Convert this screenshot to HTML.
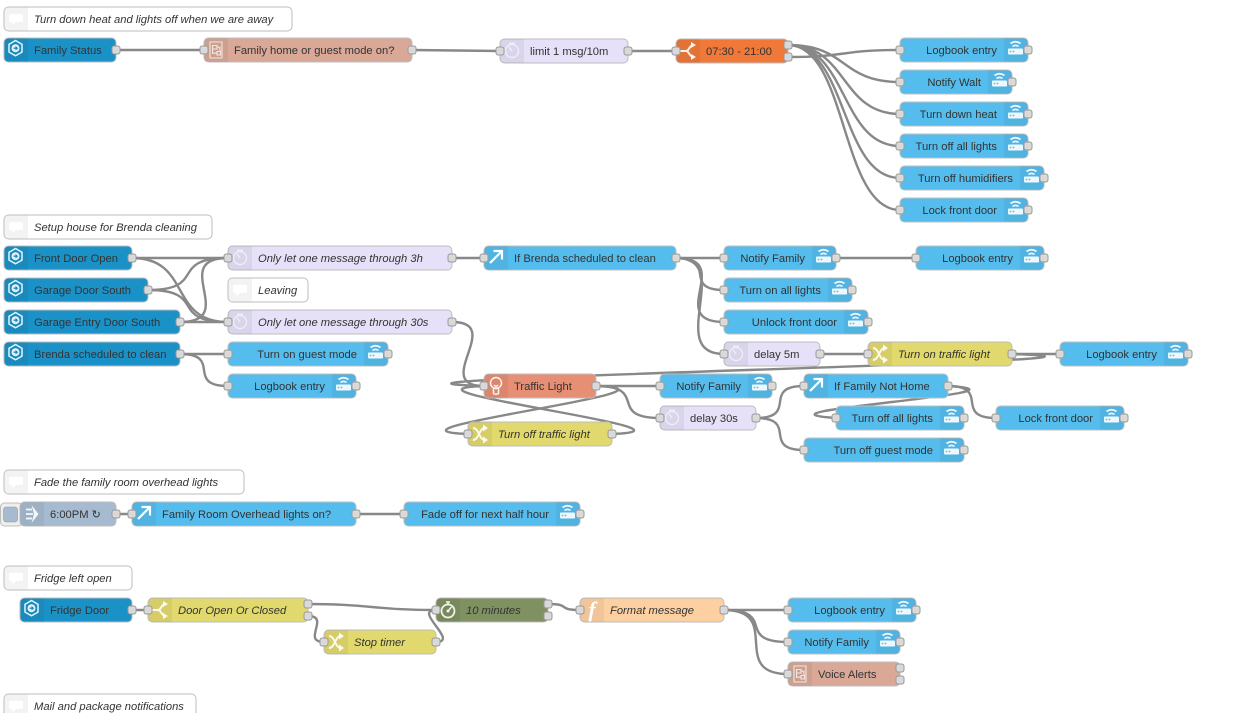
<!DOCTYPE html>
<html><head><meta charset="utf-8"><style>
html,body{margin:0;padding:0;background:#fff;overflow:hidden}
svg{display:block}
text{font-family:"Liberation Sans",Arial,sans-serif;font-size:11.2px;fill:#333}
.i{font-style:italic}
.e{text-anchor:end}
.n{stroke:#bdbdbd;stroke-width:1;rx:4.5px}
.w{fill:none;stroke:#888;stroke-width:2.4}
.ic{fill:none;stroke:#fff;stroke-width:1.5;stroke-opacity:.9}
.if{fill:#fff;fill-opacity:.9}
</style></head><body>
<svg width="1236" height="713" viewBox="0 0 1236 713" xmlns="http://www.w3.org/2000/svg">
<defs>
<rect id="po" x="-4" y="-4" width="8" height="8" rx="2.2" fill="#d9d9d9" stroke="#999" stroke-width="1"/>
<path id="L" d="M5-12H24V12H5A5 5 0 0 1 0 7V-7A5 5 0 0 1 5-12Z" fill="#000" fill-opacity=".05"/>
<path id="R" d="M0-12H19A5 5 0 0 1 24-7V7A5 5 0 0 1 19 12H0Z" fill="#000" fill-opacity=".05"/>
<g id="cm"><path d="M5-11.5H24V11.5H5A4.500 4.500 0 0 1 .5 7V-7A4.500 4.500 0 0 1 5-11.500Z" fill="#f3f3f3"/><path d="M7-5H17Q19-5 19-3V1Q19 3 17 3H12L8 6V3H7Q5 3 5 1V-3Q5-5 7-5Z" fill="#fff"/></g>
<g id="hex"><path class="ic" d="M11.500-9.500L18-5.700V2.100L11.500 5.800L5 2.100V-5.700Z"/><circle class="if" cx="11.500" cy="-1.800" r="4"/><path d="M9.500-2.500H11.500V-4.200L14.300-1.800L11.500.6V-1.100H9.500Z" fill="#1a92c8"/></g>
<g id="wifi"><rect class="if" x="4" y="-1.500" width="15" height="6" rx="1"/><circle cx="6.500" cy="1.500" r=".9" fill="#55bdee"/><circle cx="9.500" cy="1.500" r=".9" fill="#55bdee"/><path class="ic" style="stroke-width:1.700" d="M6.500-6.500Q11.500-10 16.500-6.500M8.500-3.500Q11.500-5.800 14.500-3.500"/></g>
<g id="fl"><path class="ic" style="stroke-width:1.100;stroke-opacity:.75" d="M6-8H18V8H6ZM8.500-4.500H13V-1H8.500ZM13 1.500H16.500V5H13ZM13-2.800H16V1.500M8.500-1V3.200H13"/></g>
<g id="tm"><circle class="ic" cx="12" cy="0" r="6.500" style="stroke-opacity:.55"/><path class="ic" style="stroke-opacity:.55" d="M12 0L9-4M9-7.800H15"/></g>
<g id="sw"><path class="ic" style="stroke-width:2" d="M4 0H10C13 0 13-5 17-6M10 0C13 0 13 5 17 6"/><path class="if" d="M15-9L20-6L15-3ZM15 3L20 6L15 9Z"/></g>
<g id="ar"><path class="ic" style="stroke-width:2.200;stroke-opacity:1" d="M6 5L17-6M9.500-7H18V1.500"/></g>
<g id="sh"><path class="ic" style="stroke-width:1.900" d="M5-6C11-6 11 6 17 6M5 6C11 6 11-6 17-6"/><path class="if" d="M15-9.500L20-6L15-2.500ZM15 2.500L20 6L15 9.500Z"/></g>
<g id="bu"><circle class="ic" cx="12" cy="-3" r="5.500"/><path class="ic" d="M9.500 2.500V7.500Q12 9 14.500 7.500V2.500M10-1L12 1L14-1"/></g>
<g id="st"><circle class="ic" cx="12" cy="1" r="6.500" style="stroke-width:1.700"/><path class="ic" d="M12 1L15.500-3M10-8H14M12-8V-5.500"/><circle class="if" cx="12" cy="1" r="1.500"/></g>
<g id="inj"><path class="ic" style="stroke-width:1.800" d="M6-4.500H12M6 0H13M6 4.500H12"/><path class="if" d="M11.500-9L18.500 0L11.500 9L14-0Z"/></g>
</defs>

<g>
<path class="w" d="M116 50H204M412 50L500 51M628 51H676"/>
<path class="w" d="M788 57C848 57 840 50 900 50"/>
<path class="w" d="M788 45C848 45 840 82 900 82"/>
<path class="w" d="M788 45C848 45 840 114 900 114"/>
<path class="w" d="M788 45C848 45 840 146 900 146"/>
<path class="w" d="M788 45C848 45 840 178 900 178"/>
<path class="w" d="M788 45C848 45 840 210 900 210"/>
<path class="w" d="M132 258H228"/>
<path class="w" d="M132 258C192 258 168 322 228 322"/>
<path class="w" d="M148 290C208 290 168 258 228 258"/>
<path class="w" d="M148 290C208 290 168 322 228 322"/>
<path class="w" d="M180 322C240 322 168 258 228 258"/>
<path class="w" d="M180 322H228"/>
<path class="w" d="M180 354H228"/>
<path class="w" d="M180 354C223.300 354 184.700 386 228 386"/>
<path class="w" d="M452 258H484"/>
<path class="w" d="M452 322C505.700 322 430.300 386 484 386"/>
<path class="w" d="M676 258H724"/>
<path class="w" d="M676 258C719.300 258 680.700 290 724 290"/>
<path class="w" d="M676 258C736 258 664 322 724 322"/>
<path class="w" d="M676 258C736 258 664 354 724 354"/>
<path class="w" d="M836 258H916M820 354H868M1012 354H1060"/>
<path class="w" d="M1012 354C1232 360.700 264 379.300 484 386"/>
<path class="w" d="M596 386H660"/>
<path class="w" d="M596 386C649.700 386 606.300 418 660 418"/>
<path class="w" d="M756 418C799.300 418 760.700 386 804 386"/>
<path class="w" d="M756 418C799.300 418 760.700 450 804 450"/>
<path class="w" d="M948 386C991.300 386 952.700 418 996 418"/>
<path class="w" d="M948 386C1052.800 392.700 731.200 411.300 836 418"/>
<path class="w" d="M612 434C723.200 430 372.800 390 484 386"/>
<path class="w" d="M596 386C707.200 390 356.800 430 468 434"/>
<path class="w" d="M116 514H132M356 514H404M132 610H148"/>
<path class="w" d="M308 604C368 604 376 610 436 610"/>
<path class="w" d="M308 616C330.900 616 301.100 642 324 642"/>
<path class="w" d="M436 642C460 642 412 610 436 610"/>
<path class="w" d="M548 604C572.400 604 555.600 610 580 610"/>
<path class="w" d="M724 610H788"/>
<path class="w" d="M724 610C777.700 610 734.300 642 788 642"/>
<path class="w" d="M724 610C784 610 728 674 788 674"/>
</g>

<!-- comments -->
<g transform="translate(4,19)"><rect class="n" y="-12" width="288" height="24" fill="#fff"/><use href="#cm"/><text class="i" x="30" y="4">Turn down heat and lights off when we are away</text></g>
<g transform="translate(4,227)"><rect class="n" y="-12" width="208" height="24" fill="#fff"/><use href="#cm"/><text class="i" x="30" y="4">Setup house for Brenda cleaning</text></g>
<g transform="translate(228,290)"><rect class="n" y="-12" width="80" height="24" fill="#fff"/><use href="#cm"/><text class="i" x="30" y="4">Leaving</text></g>
<g transform="translate(4,482)"><rect class="n" y="-12" width="240" height="24" fill="#fff"/><use href="#cm"/><text class="i" x="30" y="4">Fade the family room overhead lights</text></g>
<g transform="translate(4,578)"><rect class="n" y="-12" width="128" height="24" fill="#fff"/><use href="#cm"/><text class="i" x="30" y="4">Fridge left open</text></g>
<g transform="translate(4,706)"><rect class="n" y="-12" width="192" height="24" fill="#fff"/><use href="#cm"/><text class="i" x="30" y="4">Mail and package notifications</text></g>

<!-- flow 1 -->
<g transform="translate(4,50)"><rect class="n" y="-12" width="112" height="24" fill="#1a92c8"/><use href="#L"/><use href="#hex"/><text x="30" y="4">Family Status</text><use href="#po" x="112"/></g>
<g transform="translate(204,50)"><rect class="n" y="-12" width="208" height="24" fill="#d9a896"/><use href="#L"/><use href="#fl"/><text x="30" y="4">Family home or guest mode on?</text><use href="#po"/><use href="#po" x="208"/></g>
<g transform="translate(500,51)"><rect class="n" y="-12" width="128" height="24" fill="#e6e0f8"/><use href="#L"/><use href="#tm"/><text x="30" y="4">limit 1 msg/10m</text><use href="#po"/><use href="#po" x="128"/></g>
<g transform="translate(676,51)"><rect class="n" y="-12" width="112" height="24" fill="#f0793a"/><use href="#L"/><use href="#sw"/><text x="30" y="4">07:30 - 21:00</text><use href="#po"/><use href="#po" x="112" y="-6"/><use href="#po" x="112" y="6"/></g>
<g transform="translate(900,50)"><rect class="n" y="-12" width="128" height="24" fill="#55bdee"/><use href="#R" x="104"/><use href="#wifi" x="104"/><text class="e" x="97" y="4">Logbook entry</text><use href="#po"/><use href="#po" x="128"/></g>
<g transform="translate(900,82)"><rect class="n" y="-12" width="112" height="24" fill="#55bdee"/><use href="#R" x="88"/><use href="#wifi" x="88"/><text class="e" x="81" y="4">Notify Walt</text><use href="#po"/><use href="#po" x="112"/></g>
<g transform="translate(900,114)"><rect class="n" y="-12" width="128" height="24" fill="#55bdee"/><use href="#R" x="104"/><use href="#wifi" x="104"/><text class="e" x="97" y="4">Turn down heat</text><use href="#po"/><use href="#po" x="128"/></g>
<g transform="translate(900,146)"><rect class="n" y="-12" width="128" height="24" fill="#55bdee"/><use href="#R" x="104"/><use href="#wifi" x="104"/><text class="e" x="97" y="4">Turn off all lights</text><use href="#po"/><use href="#po" x="128"/></g>
<g transform="translate(900,178)"><rect class="n" y="-12" width="144" height="24" fill="#55bdee"/><use href="#R" x="120"/><use href="#wifi" x="120"/><text class="e" x="113" y="4">Turn off humidifiers</text><use href="#po"/><use href="#po" x="144"/></g>
<g transform="translate(900,210)"><rect class="n" y="-12" width="128" height="24" fill="#55bdee"/><use href="#R" x="104"/><use href="#wifi" x="104"/><text class="e" x="97" y="4">Lock front door</text><use href="#po"/><use href="#po" x="128"/></g>

<!-- flow 2 -->
<g transform="translate(4,258)"><rect class="n" y="-12" width="128" height="24" fill="#1a92c8"/><use href="#L"/><use href="#hex"/><text x="30" y="4">Front Door Open</text><use href="#po" x="128"/></g>
<g transform="translate(4,290)"><rect class="n" y="-12" width="144" height="24" fill="#1a92c8"/><use href="#L"/><use href="#hex"/><text x="30" y="4">Garage Door South</text><use href="#po" x="144"/></g>
<g transform="translate(4,322)"><rect class="n" y="-12" width="176" height="24" fill="#1a92c8"/><use href="#L"/><use href="#hex"/><text x="30" y="4">Garage Entry Door South</text><use href="#po" x="176"/></g>
<g transform="translate(4,354)"><rect class="n" y="-12" width="176" height="24" fill="#1a92c8"/><use href="#L"/><use href="#hex"/><text x="30" y="4">Brenda scheduled to clean</text><use href="#po" x="176"/></g>
<g transform="translate(228,258)"><rect class="n" y="-12" width="224" height="24" fill="#e6e0f8"/><use href="#L"/><use href="#tm"/><text class="i" x="30" y="4">Only let one message through 3h</text><use href="#po"/><use href="#po" x="224"/></g>
<g transform="translate(228,322)"><rect class="n" y="-12" width="224" height="24" fill="#e6e0f8"/><use href="#L"/><use href="#tm"/><text class="i" x="30" y="4">Only let one message through 30s</text><use href="#po"/><use href="#po" x="224"/></g>
<g transform="translate(228,354)"><rect class="n" y="-12" width="160" height="24" fill="#55bdee"/><use href="#R" x="136"/><use href="#wifi" x="136"/><text class="e" x="129" y="4">Turn on guest mode</text><use href="#po"/><use href="#po" x="160"/></g>
<g transform="translate(228,386)"><rect class="n" y="-12" width="128" height="24" fill="#55bdee"/><use href="#R" x="104"/><use href="#wifi" x="104"/><text class="e" x="97" y="4">Logbook entry</text><use href="#po"/><use href="#po" x="128"/></g>
<g transform="translate(484,258)"><rect class="n" y="-12" width="192" height="24" fill="#55bdee"/><use href="#L"/><use href="#ar"/><text x="30" y="4">If Brenda scheduled to clean</text><use href="#po"/><use href="#po" x="192"/></g>
<g transform="translate(724,258)"><rect class="n" y="-12" width="112" height="24" fill="#55bdee"/><use href="#R" x="88"/><use href="#wifi" x="88"/><text class="e" x="81" y="4">Notify Family</text><use href="#po"/><use href="#po" x="112"/></g>
<g transform="translate(916,258)"><rect class="n" y="-12" width="128" height="24" fill="#55bdee"/><use href="#R" x="104"/><use href="#wifi" x="104"/><text class="e" x="97" y="4">Logbook entry</text><use href="#po"/><use href="#po" x="128"/></g>
<g transform="translate(724,290)"><rect class="n" y="-12" width="128" height="24" fill="#55bdee"/><use href="#R" x="104"/><use href="#wifi" x="104"/><text class="e" x="97" y="4">Turn on all lights</text><use href="#po"/><use href="#po" x="128"/></g>
<g transform="translate(724,322)"><rect class="n" y="-12" width="144" height="24" fill="#55bdee"/><use href="#R" x="120"/><use href="#wifi" x="120"/><text class="e" x="113" y="4">Unlock front door</text><use href="#po"/><use href="#po" x="144"/></g>
<g transform="translate(724,354)"><rect class="n" y="-12" width="96" height="24" fill="#e6e0f8"/><use href="#L"/><use href="#tm"/><text x="30" y="4">delay 5m</text><use href="#po"/><use href="#po" x="96"/></g>
<g transform="translate(868,354)"><rect class="n" y="-12" width="144" height="24" fill="#e2d96e"/><use href="#L"/><use href="#sh"/><text class="i" x="30" y="4">Turn on traffic light</text><use href="#po"/><use href="#po" x="144"/></g>
<g transform="translate(1060,354)"><rect class="n" y="-12" width="128" height="24" fill="#55bdee"/><use href="#R" x="104"/><use href="#wifi" x="104"/><text class="e" x="97" y="4">Logbook entry</text><use href="#po"/><use href="#po" x="128"/></g>
<g transform="translate(484,386)"><rect class="n" y="-12" width="112" height="24" fill="#e68f74"/><use href="#L"/><use href="#bu"/><text x="30" y="4">Traffic Light</text><use href="#po"/><use href="#po" x="112"/></g>
<g transform="translate(660,386)"><rect class="n" y="-12" width="112" height="24" fill="#55bdee"/><use href="#R" x="88"/><use href="#wifi" x="88"/><text class="e" x="81" y="4">Notify Family</text><use href="#po"/><use href="#po" x="112"/></g>
<g transform="translate(660,418)"><rect class="n" y="-12" width="96" height="24" fill="#e6e0f8"/><use href="#L"/><use href="#tm"/><text x="30" y="4">delay 30s</text><use href="#po"/><use href="#po" x="96"/></g>
<g transform="translate(468,434)"><rect class="n" y="-12" width="144" height="24" fill="#e2d96e"/><use href="#L"/><use href="#sh"/><text class="i" x="30" y="4">Turn off traffic light</text><use href="#po"/><use href="#po" x="144"/></g>
<g transform="translate(804,386)"><rect class="n" y="-12" width="144" height="24" fill="#55bdee"/><use href="#L"/><use href="#ar"/><text x="30" y="4">If Family Not Home</text><use href="#po"/><use href="#po" x="144"/></g>
<g transform="translate(836,418)"><rect class="n" y="-12" width="128" height="24" fill="#55bdee"/><use href="#R" x="104"/><use href="#wifi" x="104"/><text class="e" x="97" y="4">Turn off all lights</text><use href="#po"/><use href="#po" x="128"/></g>
<g transform="translate(804,450)"><rect class="n" y="-12" width="160" height="24" fill="#55bdee"/><use href="#R" x="136"/><use href="#wifi" x="136"/><text class="e" x="129" y="4">Turn off guest mode</text><use href="#po"/><use href="#po" x="160"/></g>
<g transform="translate(996,418)"><rect class="n" y="-12" width="128" height="24" fill="#55bdee"/><use href="#R" x="104"/><use href="#wifi" x="104"/><text class="e" x="97" y="4">Lock front door</text><use href="#po"/><use href="#po" x="128"/></g>

<!-- flow 3 -->
<rect x="0.500" y="503" width="22" height="23" rx="4" fill="#eee" stroke="#bdbdbd"/>
<rect x="3.500" y="507" width="14" height="15" rx="3" fill="#a6bbcf" stroke="#999" stroke-width=".6"/>
<g transform="translate(20,514)"><rect class="n" y="-12" width="96" height="24" fill="#a6bbcf"/><use href="#L"/><use href="#inj"/><text x="30" y="4">6:00PM ↻</text><use href="#po" x="96"/></g>
<g transform="translate(132,514)"><rect class="n" y="-12" width="224" height="24" fill="#55bdee"/><use href="#L"/><use href="#ar"/><text x="30" y="4">Family Room Overhead lights on?</text><use href="#po"/><use href="#po" x="224"/></g>
<g transform="translate(404,514)"><rect class="n" y="-12" width="176" height="24" fill="#55bdee"/><use href="#R" x="152"/><use href="#wifi" x="152"/><text class="e" x="145" y="4">Fade off for next half hour</text><use href="#po"/><use href="#po" x="176"/></g>

<!-- flow 4 -->
<g transform="translate(20,610)"><rect class="n" y="-12" width="112" height="24" fill="#1a92c8"/><use href="#L"/><use href="#hex"/><text x="30" y="4">Fridge Door</text><use href="#po" x="112"/></g>
<g transform="translate(148,610)"><rect class="n" y="-12" width="160" height="24" fill="#e2d96e"/><use href="#L"/><use href="#sw"/><text class="i" x="30" y="4">Door Open Or Closed</text><use href="#po"/><use href="#po" x="160" y="-6"/><use href="#po" x="160" y="6"/></g>
<g transform="translate(324,642)"><rect class="n" y="-12" width="112" height="24" fill="#e2d96e"/><use href="#L"/><use href="#sh"/><text class="i" x="30" y="4">Stop timer</text><use href="#po"/><use href="#po" x="112"/></g>
<g transform="translate(436,610)"><rect class="n" y="-12" width="112" height="24" fill="#7f9160"/><use href="#L"/><use href="#st"/><text class="i" x="30" y="4">10 minutes</text><use href="#po"/><use href="#po" x="112" y="-6"/><use href="#po" x="112" y="6"/></g>
<g transform="translate(580,610)"><rect class="n" y="-12" width="144" height="24" fill="#fdd0a2"/><use href="#L"/><text x="12" y="7" text-anchor="middle" style="font-family:'Liberation Serif',serif;font-style:italic;font-weight:bold;font-size:22px;fill:#fff">f</text><text class="i" x="30" y="4">Format message</text><use href="#po"/><use href="#po" x="144"/></g>
<g transform="translate(788,610)"><rect class="n" y="-12" width="128" height="24" fill="#55bdee"/><use href="#R" x="104"/><use href="#wifi" x="104"/><text class="e" x="97" y="4">Logbook entry</text><use href="#po"/><use href="#po" x="128"/></g>
<g transform="translate(788,642)"><rect class="n" y="-12" width="112" height="24" fill="#55bdee"/><use href="#R" x="88"/><use href="#wifi" x="88"/><text class="e" x="81" y="4">Notify Family</text><use href="#po"/><use href="#po" x="112"/></g>
<g transform="translate(788,674)"><rect class="n" y="-12" width="112" height="24" fill="#d9a896"/><use href="#L"/><use href="#fl"/><text x="30" y="4">Voice Alerts</text><use href="#po"/><use href="#po" x="112" y="-6"/><use href="#po" x="112" y="6"/></g>
</svg>
</body></html>
